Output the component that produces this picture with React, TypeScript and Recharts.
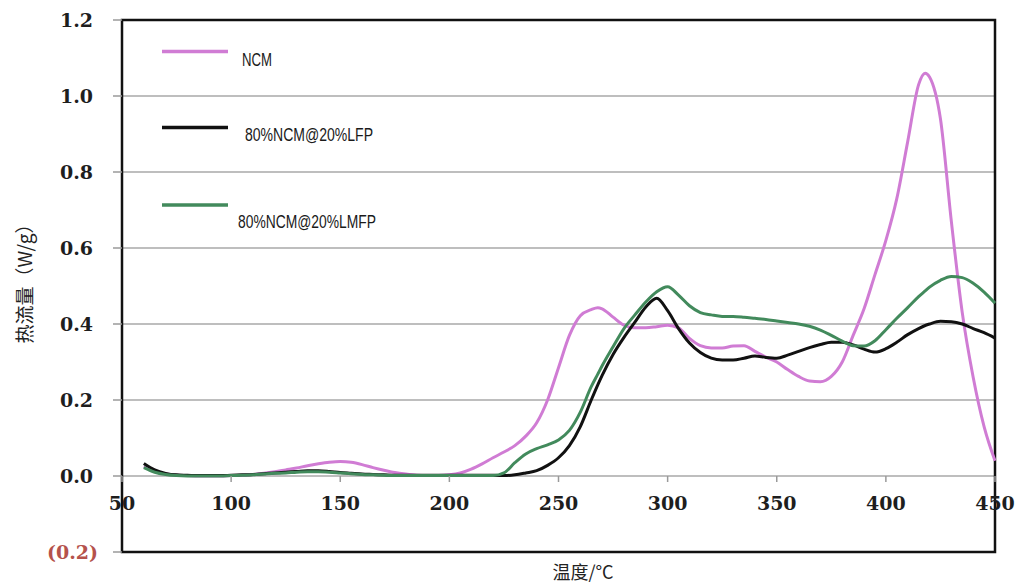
import React from 'react';
import { LineChart, Line, XAxis, YAxis, CartesianGrid, ReferenceArea, Legend, Label } from 'recharts';

const temps = [60,65,70,75,80,85,90,95,100,105,110,115,120,125,130,135,140,145,150,155,160,165,170,175,180,185,190,195,200,205,210,215,220,225,230,235,240,245,250,255,260,265,268,270,275,280,285,290,295,300,305,310,315,320,325,330,335,340,345,350,355,360,365,370,375,380,385,390,395,400,405,410,415,418,420,425,430,435,440,445,450];

const ncm = [0.025,0.012,0.005,0.002,0.001,0.0,0.0,0.0,0.001,0.002,0.004,0.007,0.011,0.016,0.021,0.027,0.032,0.036,0.038,0.036,0.03,0.022,0.015,0.009,0.005,0.002,0.001,0.001,0.003,0.008,0.018,0.032,0.048,0.063,0.08,0.105,0.14,0.2,0.285,0.37,0.422,0.438,0.443,0.44,0.418,0.397,0.39,0.39,0.393,0.397,0.39,0.362,0.343,0.337,0.337,0.342,0.343,0.328,0.313,0.3,0.28,0.262,0.25,0.248,0.262,0.3,0.37,0.44,0.53,0.62,0.73,0.88,1.03,1.06,1.05,0.94,0.67,0.43,0.26,0.13,0.04];

const lfp = [0.033,0.016,0.007,0.003,0.002,0.001,0.001,0.001,0.002,0.003,0.004,0.006,0.008,0.01,0.012,0.014,0.014,0.012,0.009,0.007,0.005,0.004,0.003,0.002,0.002,0.002,0.002,0.002,0.002,0.002,0.002,0.002,0.002,0.001,0.003,0.008,0.014,0.028,0.048,0.08,0.13,0.2,0.24,0.265,0.32,0.365,0.405,0.445,0.468,0.435,0.388,0.35,0.325,0.31,0.305,0.305,0.31,0.316,0.312,0.31,0.318,0.328,0.338,0.346,0.352,0.352,0.345,0.334,0.326,0.335,0.352,0.372,0.388,0.396,0.4,0.407,0.406,0.4,0.388,0.377,0.363];

const lmfp = [0.022,0.01,0.004,0.001,0.0,0.0,0.0,0.0,0.001,0.002,0.003,0.005,0.007,0.008,0.01,0.011,0.011,0.01,0.008,0.006,0.004,0.003,0.002,0.001,0.001,0.001,0.001,0.001,0.001,0.001,0.001,0.001,0.001,0.008,0.035,0.058,0.072,0.082,0.095,0.12,0.168,0.235,0.268,0.29,0.34,0.388,0.424,0.458,0.485,0.498,0.476,0.448,0.43,0.424,0.42,0.42,0.418,0.415,0.412,0.408,0.404,0.4,0.394,0.384,0.37,0.355,0.343,0.342,0.356,0.385,0.415,0.443,0.472,0.487,0.497,0.515,0.525,0.522,0.507,0.484,0.455];

const seriesKeys = ['ncm', 'lfp', 'lmfp'];
const seriesNames = ['NCM', '80%NCM@20%LFP', '80%NCM@20%LMFP'];
const seriesColors = ['#d07cd4', '#111111', '#428a5c'];

const xTicks = [50, 100, 150, 200, 250, 300, 350, 400, 450];
const yTicks = [-0.2, 0, 0.2, 0.4, 0.6, 0.8, 1.0, 1.2];

const yTitle = '热流量（W/g）';
const xTitle = '温度/°C';

const rows = temps.map((t, i) => ({ t, ncm: ncm[i], lfp: lfp[i], lmfp: lmfp[i] }));

const ZERO_OFFSET = 76;
const tickFont = "'DejaVu Serif', 'Liberation Serif', serif";

const XTick = (props: any) => {
  const { x, y, payload } = props;
  const y0 = y - ZERO_OFFSET;
  return (
    <g>
      <line x1={x} x2={x} y1={y0} y2={y0 + 6} stroke="#9a9a9a" strokeWidth={1.5} />
      <text x={x} y={y0 + 34} textAnchor="middle" fontFamily={tickFont} fontWeight="bold" fontSize={19} fill="#1e1e1e">
        {payload.value}
      </text>
    </g>
  );
};

const YTick = (props: any) => {
  const { x, y, payload } = props;
  const v = payload.value as number;
  const neg = v < 0;
  return (
    <text x={neg ? x + 5 : x} y={y + 7} textAnchor="end" fontFamily={tickFont} fontWeight="bold" fontSize={19} fill={neg ? '#b5524c' : '#1e1e1e'}>
      {neg ? `(${Math.abs(v).toFixed(1)})` : v.toFixed(1)}
    </text>
  );
};

const legendRows = [
  { ly: 43.5, tx: 234, ty: 52, w: 30 },
  { ly: 119.5, tx: 237, ty: 127, w: 128 },
  { ly: 197, tx: 230, ty: 214, w: 138 },
];

const renderLegend = () => (
  <svg width={420} height={240} style={{ display: 'block' }}>
    {seriesNames.map((name, i) => (
      <g key={name}>
        <line x1={154} x2={220} y1={legendRows[i].ly} y2={legendRows[i].ly} stroke={seriesColors[i]} strokeWidth={3.5} />
        <text
          x={legendRows[i].tx}
          y={legendRows[i].ty + 6}
          textLength={legendRows[i].w}
          lengthAdjust="spacingAndGlyphs"
          fontFamily="'Liberation Sans', Arial, sans-serif"
          fontSize={18}
          fill="#1a1a1a"
        >
          {name}
        </text>
      </g>
    ))}
  </svg>
);

export default function App() {
  return (
    <div style={{ width: 1009, height: 578 }}>
      <style>{`body { margin: 8px 0 0 8px; overflow: hidden; }`}</style>
      <LineChart width={1009} height={578} data={rows} margin={{ top: 12, right: 22, bottom: 8, left: 44 }}>
        <CartesianGrid vertical={false} stroke="#a8a8a8" strokeWidth={1.5} />
        <XAxis
          dataKey="t"
          type="number"
          domain={[50, 450]}
          ticks={xTicks}
          interval={0}
          axisLine={false}
          tickLine={false}
          tickSize={0}
          tickMargin={0}
          height={26}
          tick={<XTick />}
        >
          <Label
            content={() => (
              <text x={575} y={571} textAnchor="middle" fontFamily="'Noto Sans CJK SC', sans-serif" fontSize={18} fill="#222">
                {xTitle}
              </text>
            )}
          />
        </XAxis>
        <YAxis
          type="number"
          domain={[-0.2, 1.2]}
          ticks={yTicks}
          interval={0}
          width={70}
          axisLine={false}
          tickSize={9}
          tickMargin={20}
          tickLine={{ stroke: '#9a9a9a', strokeWidth: 1.5 }}
          tick={<YTick />}
        >
          <Label
            content={() => (
              <text x={15} y={271} transform="rotate(-90, 15, 271)" textAnchor="middle" dominantBaseline="central" fontFamily="'Noto Sans CJK SC', sans-serif" fontSize={19} fill="#222">
                {yTitle}
              </text>
            )}
          />
        </YAxis>
        <ReferenceArea x1={50} x2={450} y1={-0.2} y2={1.2} fill="none" stroke="#111" strokeWidth={2.5} ifOverflow="visible" />
        {seriesKeys.map((k, i) => (
          <Line
            key={k}
            dataKey={k}
            name={seriesNames[i]}
            type="monotone"
            stroke={seriesColors[i]}
            strokeWidth={3}
            dot={false}
            activeDot={false}
            isAnimationActive={false}
          />
        ))}
        <Legend layout="vertical" align="center" verticalAlign="middle" content={renderLegend} wrapperStyle={{ left: 0, top: 0, width: 420, height: 240 }} />
      </LineChart>
    </div>
  );
}
